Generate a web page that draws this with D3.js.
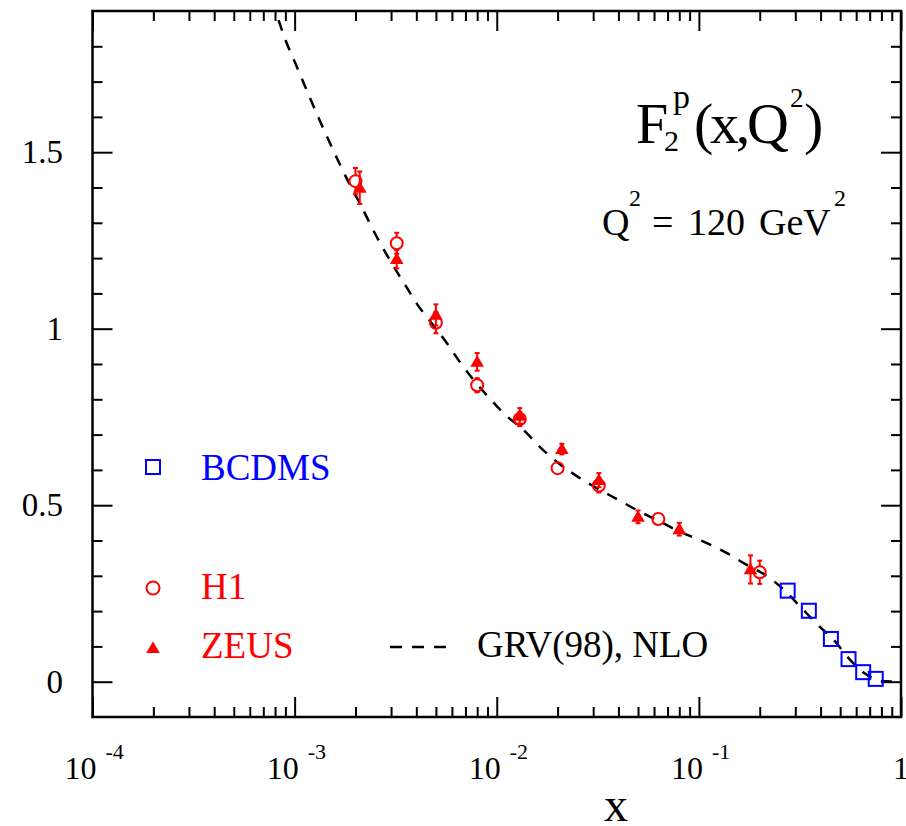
<!DOCTYPE html>
<html>
<head>
<meta charset="utf-8">
<script src="https://cdn.jsdelivr.net/npm/d3@7"></script>
<style>
  html, body { margin: 0; padding: 0; background: #fff; }
  svg { display: block; }
  text { font-family: "Liberation Serif", "Times New Roman", serif; }
</style>
</head>
<body>
<svg id="chart" width="906" height="826"></svg>
<script>
// H1 measurements: x, F2 and error
const h1X   = [0.002, 0.0032, 0.005, 0.008, 0.013, 0.02, 0.032, 0.063, 0.2];
const h1F2  = [1.418, 1.242, 1.017, 0.840, 0.744, 0.605, 0.556, 0.461, 0.310];
const h1Err = [0.037, 0.030, 0.030, 0.020, 0.020, 0.015, 0.020, 0.012, 0.033];

// ZEUS measurements
const zeusX   = [0.0021, 0.0032, 0.005, 0.008, 0.013, 0.021, 0.032, 0.05, 0.08, 0.18];
const zeusF2  = [1.399, 1.197, 1.039, 0.906, 0.753, 0.659, 0.571, 0.467, 0.432, 0.318];
const zeusErr = [0.046, 0.026, 0.030, 0.025, 0.022, 0.015, 0.020, 0.018, 0.018, 0.040];

// BCDMS measurements
const bcdmsX  = [0.275, 0.35, 0.45, 0.55, 0.65, 0.75];
const bcdmsF2 = [0.258, 0.201, 0.121, 0.064, 0.027, 0.008];

// GRV(98) NLO prediction
const grvX  = [0.000777, 0.000831, 0.000908, 0.001017, 0.001184, 0.00147, 0.001846, 0.002093,
               0.00265, 0.003063, 0.003565, 0.0041, 0.004777, 0.005669, 0.0066, 0.007676,
               0.00921, 0.01102, 0.01358, 0.01642, 0.02022, 0.02512, 0.03133, 0.03936,
               0.04943, 0.06448, 0.08254, 0.1017, 0.1379, 0.1699, 0.2134, 0.2581, 0.3181,
               0.3847, 0.474, 0.5515, 0.6805, 0.7915, 1.0];
const grvF2 = [1.931, 1.876, 1.813, 1.747, 1.657, 1.535, 1.416, 1.357,
               1.242, 1.180, 1.119, 1.064, 1.015, 0.959, 0.904, 0.855,
               0.803, 0.756, 0.713, 0.664, 0.619, 0.581, 0.548, 0.517,
               0.486, 0.453, 0.422, 0.401, 0.364, 0.333, 0.302, 0.265, 0.212,
               0.163, 0.113, 0.066, 0.019, 0.002, 0.0];

// Axis ticks
const xMajor = [1e-4, 1e-3, 1e-2, 1e-1, 1];
const xExponents = ["-4", "-3", "-2", "-1", ""];
const yMajor = [0, 0.5, 1, 1.5];
const yLabels = ["0", "0.5", "1", "1.5"];

const RED = "#ff0000", BLUE = "#0000ff";
const pL = 92.5, pR = 901, pT = 11, pB = 717;

const svg = d3.select("#chart");
const x = d3.scaleLog().domain([1e-4, 1]).range([pL, pR]);
const y = d3.scaleLinear().domain([-0.1, 1.9]).range([pB, pT]);

const xMinor = [];
for (let d = -4; d < 0; d++) for (let m = 2; m <= 9; m++) xMinor.push(m * Math.pow(10, d));
const yMinor = d3.range(-9, 20).map(i => i / 10)
  .filter(v => v > -0.05 && v < 1.85 && Math.abs(v * 2 - Math.round(v * 2)) > 1e-6);

// inward ticks on all four sides
function ticks(axisGen, vals, len, transform) {
  const g = svg.append("g").attr("transform", transform)
    .call(axisGen.tickValues(vals).tickSize(-len).tickFormat(""));
  g.select(".domain").remove();
  g.selectAll("line").attr("stroke", "#000").attr("stroke-width", 2);
}
ticks(d3.axisBottom(x), xMajor, 20, `translate(0,${pB})`);
ticks(d3.axisBottom(x), xMinor, 10, `translate(0,${pB})`);
ticks(d3.axisTop(x), xMajor, 20, `translate(0,${pT})`);
ticks(d3.axisTop(x), xMinor, 10, `translate(0,${pT})`);
ticks(d3.axisLeft(y), yMajor, 20, `translate(${pL},0)`);
ticks(d3.axisLeft(y), yMinor, 10, `translate(${pL},0)`);
ticks(d3.axisRight(y), yMajor, 20, `translate(${pR},0)`);
ticks(d3.axisRight(y), yMinor, 10, `translate(${pR},0)`);

// frame
svg.append("rect").attr("x", pL).attr("y", pT)
  .attr("width", pR - pL).attr("height", pB - pT)
  .attr("fill", "none").attr("stroke", "#000").attr("stroke-width", 2.5);

// y tick labels
svg.append("g").selectAll("text").data(yMajor).join("text")
  .attr("x", 63).attr("y", d => y(d) + 11)
  .attr("text-anchor", "end").attr("font-size", 33)
  .text((d, i) => yLabels[i]);

// x tick labels with exponents
const xl = svg.append("g").selectAll("g").data(xMajor).join("g");
xl.each(function (d, i) {
  const g = d3.select(this);
  if (xExponents[i] === "") {
    g.append("text").attr("x", x(d)).attr("y", 779).attr("text-anchor", "middle")
      .attr("font-size", 32).text("1");
  } else {
    const t = g.append("text").attr("x", x(d) - 28).attr("y", 779).attr("font-size", 32);
    t.append("tspan").text("10");
    t.append("tspan").attr("dx", 9).attr("dy", -20).attr("font-size", 22).text(xExponents[i]);
  }
});

// axis title
svg.append("text").attr("x", 616).attr("y", 821).attr("text-anchor", "middle")
  .attr("font-size", 48).text("x");

// plot clip
svg.append("clipPath").attr("id", "plotClip").append("rect")
  .attr("x", pL).attr("y", pT).attr("width", pR - pL).attr("height", pB - pT);
const plot = svg.append("g").attr("clip-path", "url(#plotClip)");

// theory curve
const grv = grvX.map((v, i) => [v, grvF2[i]]);
plot.append("path").datum(grv)
  .attr("d", d3.line().x(d => x(d[0])).y(d => y(d[1])).curve(d3.curveMonotoneX))
  .attr("fill", "none").attr("stroke", "#000").attr("stroke-width", 2.5)
  .attr("stroke-dasharray", "11,10");

// error bars, drawn outside the marker
function errorBars(xs, vs, es, color, gap) {
  const data = xs.map((v, i) => ({ x: v, v: vs[i], e: es[i] }));
  const g = plot.append("g").attr("stroke", color).attr("stroke-width", 2);
  data.forEach(d => {
    const cx = x(d.x), cy = y(d.v), yt = y(d.v + d.e), yb = y(d.v - d.e);
    if (cy - yt > gap) {
      g.append("line").attr("x1", cx).attr("x2", cx).attr("y1", yt).attr("y2", cy - gap);
      g.append("line").attr("x1", cx - 2.5).attr("x2", cx + 2.5).attr("y1", yt).attr("y2", yt);
    }
    if (yb - cy > gap) {
      g.append("line").attr("x1", cx).attr("x2", cx).attr("y1", cy + gap).attr("y2", yb);
      g.append("line").attr("x1", cx - 2.5).attr("x2", cx + 2.5).attr("y1", yb).attr("y2", yb);
    }
  });
}
errorBars(h1X, h1F2, h1Err, RED, 6);
errorBars(zeusX, zeusF2, zeusErr, RED, 4);

const tri = d3.symbol().type(d3.symbolTriangle).size(80);

// H1 circles
plot.append("g").selectAll("circle").data(h1X).join("circle")
  .attr("cx", d => x(d)).attr("cy", (d, i) => y(h1F2[i])).attr("r", 6)
  .attr("fill", "none").attr("stroke", RED).attr("stroke-width", 2);

// ZEUS triangles
plot.append("g").selectAll("path").data(zeusX).join("path")
  .attr("d", tri)
  .attr("transform", (d, i) => `translate(${x(d)},${y(zeusF2[i]) + 1})`)
  .attr("fill", RED);

// BCDMS squares
plot.append("g").selectAll("rect").data(bcdmsX).join("rect")
  .attr("x", d => x(d) - 7).attr("y", (d, i) => y(bcdmsF2[i]) - 7)
  .attr("width", 14).attr("height", 14)
  .attr("fill", "none").attr("stroke", BLUE).attr("stroke-width", 2);

// legend
const leg = svg.append("g");
leg.append("rect").attr("x", 146).attr("y", 460).attr("width", 14).attr("height", 14)
  .attr("fill", "none").attr("stroke", BLUE).attr("stroke-width", 2);
leg.append("text").attr("x", 201).attr("y", 480).attr("font-size", 37).attr("fill", BLUE).text("BCDMS");
leg.append("circle").attr("cx", 153).attr("cy", 588).attr("r", 6.5)
  .attr("fill", "none").attr("stroke", RED).attr("stroke-width", 2);
leg.append("text").attr("x", 201).attr("y", 599).attr("font-size", 37).attr("fill", RED).text("H1");
leg.append("path").attr("d", tri).attr("transform", "translate(153,649)").attr("fill", RED);
leg.append("text").attr("x", 201).attr("y", 658).attr("font-size", 37).attr("fill", RED).text("ZEUS");
leg.append("line").attr("x1", 390).attr("x2", 448).attr("y1", 647).attr("y2", 647)
  .attr("stroke", "#000").attr("stroke-width", 2.5).attr("stroke-dasharray", "12,10");
leg.append("text").attr("x", 477).attr("y", 657).attr("font-size", 37).text("GRV(98), NLO");

// structure-function title
const ttl = svg.append("g");
ttl.append("text").attr("x", 636).attr("y", 143).attr("font-size", 58).text("F");
ttl.append("text").attr("x", 673).attr("y", 108).attr("font-size", 34).text("p");
ttl.append("text").attr("x", 664).attr("y", 151).attr("font-size", 30).text("2");
ttl.append("text").attr("x", 694).attr("y", 143).attr("font-size", 58)
  .attr("textLength", 95).attr("lengthAdjust", "spacing").text("(x,Q");
ttl.append("text").attr("x", 790).attr("y", 107).attr("font-size", 27).text("2");
ttl.append("text").attr("x", 804).attr("y", 143).attr("font-size", 58).text(")");

// scale note
const q = svg.append("g");
q.append("text").attr("x", 602).attr("y", 235).attr("font-size", 38).text("Q");
q.append("text").attr("x", 629).attr("y", 206).attr("font-size", 24).text("2");
q.append("text").attr("x", 652).attr("y", 235).attr("font-size", 38).text("=");
q.append("text").attr("x", 688).attr("y", 235).attr("font-size", 38).text("120");
q.append("text").attr("x", 759).attr("y", 235).attr("font-size", 38).text("GeV");
q.append("text").attr("x", 834).attr("y", 206).attr("font-size", 24).text("2");
</script>
</body>
</html>
